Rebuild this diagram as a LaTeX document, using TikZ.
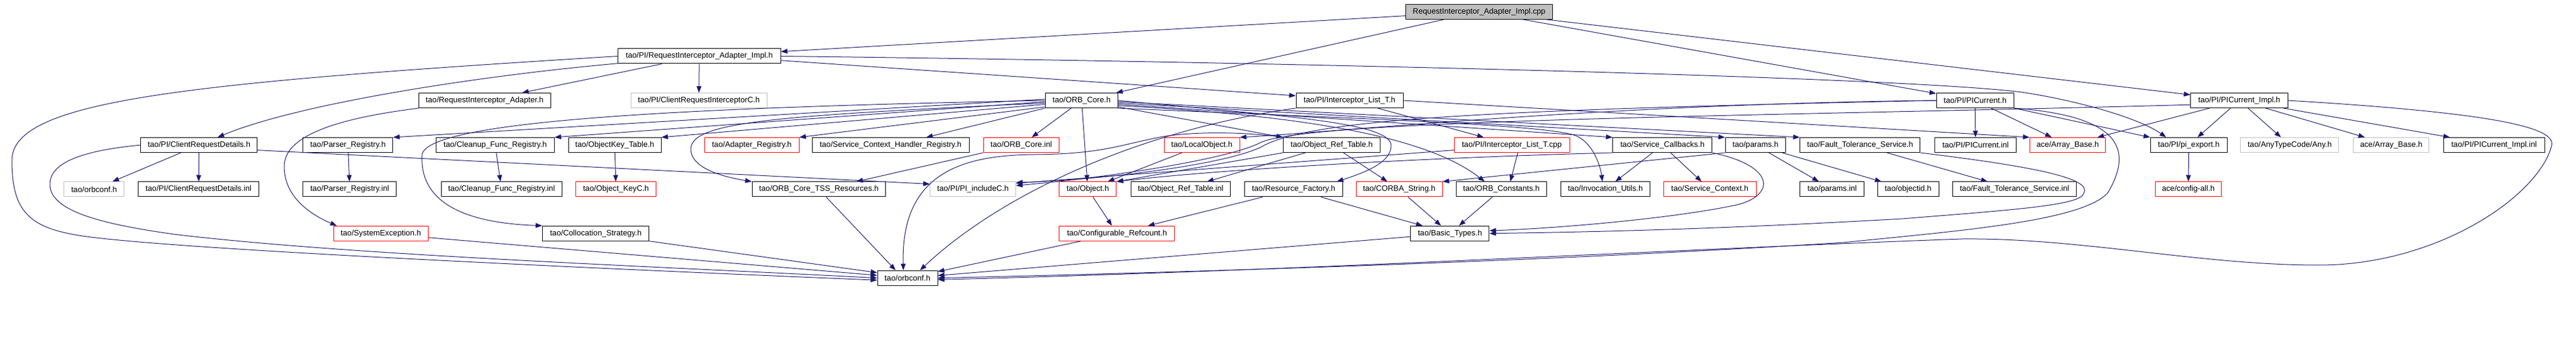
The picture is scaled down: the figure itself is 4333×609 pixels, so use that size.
\documentclass[tikz,border=0pt]{standalone}
\usepackage{fontspec}
\setmainfont{Liberation Sans}
\usetikzlibrary{arrows.meta}
\definecolor{depblue}{RGB}{25,25,112}
\definecolor{boxgray}{RGB}{191,191,191}

\begin{document}
\begin{tikzpicture}[x=1pt, y=-1pt,
    hdr/.style={draw=black, line width=1pt, fill=white, anchor=west, minimum height=25pt, inner sep=0pt, font=\fontsize{13.2}{15}\selectfont},
    hdrred/.style={hdr, draw=red},
    hdrgray/.style={hdr, draw=boxgray},
    hdrmain/.style={hdr, fill=boxgray},
    dep/.style={draw=depblue, line width=1pt, -{Triangle[length=11pt, width=8pt]}}]
    \useasboundingbox (0,0) rectangle (4333,609);

    \node[hdrmain, minimum width=247pt] (cpp) at (2364,19.6) {RequestInterceptor\_Adapter\_Impl.cpp};

    \node[hdr, minimum width=273.5pt] (raih) at (1039,94.5) {tao/PI/RequestInterceptor\_Adapter\_Impl.h};

    \node[hdr, minimum width=221.5pt] (ria) at (704,169) {tao/RequestInterceptor\_Adapter.h};
    \node[hdrgray, minimum width=229pt] (cric) at (1060.5,169) {tao/PI/ClientRequestInterceptorC.h};
    \node[hdr, minimum width=122.5pt] (orbcore) at (1757.6,169) {tao/ORB\_Core.h};
    \node[hdr, minimum width=180pt] (ilth) at (2179.5,169) {tao/PI/Interceptor\_List\_T.h};
    \node[hdr, minimum width=130.5pt] (pic) at (3256.5,169) {tao/PI/PICurrent.h};
    \node[hdr, minimum width=163.5pt] (picimpl) at (3684.3,169) {tao/PI/PICurrent\_Impl.h};

    \node[hdr, minimum width=196pt] (crd) at (236.4,244) {tao/PI/ClientRequestDetails.h};
    \node[hdr, minimum width=151pt] (parser) at (509.3,244) {tao/Parser\_Registry.h};
    \node[hdr, minimum width=198.7pt] (cleanup) at (733.1,244) {tao/Cleanup\_Func\_Registry.h};
    \node[hdr, minimum width=156pt] (okt) at (955.5,244) {tao/ObjectKey\_Table.h};
    \node[hdrred, minimum width=159pt] (adapter) at (1184.5,244) {tao/Adapter\_Registry.h};
    \node[hdr, minimum width=264pt] (schr) at (1365.5,244) {tao/Service\_Context\_Handler\_Registry.h};
    \node[hdrred, minimum width=127.6pt] (orbinl) at (1653.6,244) {tao/ORB\_Core.inl};
    \node[hdrred, minimum width=127pt] (localobj) at (1957.5,244) {tao/LocalObject.h};
    \node[hdr, minimum width=162.8pt] (ort) at (2158,244) {tao/Object\_Ref\_Table.h};
    \node[hdrred, minimum width=194pt] (iltcpp) at (2445.5,244) {tao/PI/Interceptor\_List\_T.cpp};
    \node[hdr, minimum width=166.8pt] (svccb) at (2712.4,244) {tao/Service\_Callbacks.h};
    \node[hdr, minimum width=101.8pt] (params) at (2901.5,244) {tao/params.h};
    \node[hdr, minimum width=202pt] (fts) at (3027.3,244) {tao/Fault\_Tolerance\_Service.h};
    \node[hdr, minimum width=137pt] (picinl) at (3254,244) {tao/PI/PICurrent.inl};
    \node[hdrred, minimum width=127.3pt] (arrbase) at (3413.8,244) {ace/Array\_Base.h};
    \node[hdr, minimum width=129pt] (piexport) at (3616.6,244) {tao/PI/pi\_export.h};
    \node[hdrgray, minimum width=165pt] (any) at (3768.4,244) {tao/AnyTypeCode/Any.h};
    \node[hdrgray, minimum width=127.4pt] (arrbasex) at (3958,244) {ace/Array\_Base.h};
    \node[hdr, minimum width=169.8pt] (picimplinl) at (4109.7,244) {tao/PI/PICurrent\_Impl.inl};

    \node[hdrgray, minimum width=101pt] (orbconfg) at (107.3,318.5) {tao/orbconf.h};
    \node[hdr, minimum width=202.7pt] (crdinl) at (232.2,318.5) {tao/PI/ClientRequestDetails.inl};
    \node[hdr, minimum width=157pt] (parserinl) at (509.3,318.5) {tao/Parser\_Registry.inl};
    \node[hdr, minimum width=203.4pt] (cleanupinl) at (741.5,318.5) {tao/Cleanup\_Func\_Registry.inl};
    \node[hdrred, minimum width=135.1pt] (okc) at (968.1,318.5) {tao/Object\_KeyC.h};
    \node[hdr, minimum width=224.8pt] (tss) at (1264.5,318.5) {tao/ORB\_Core\_TSS\_Resources.h};
    \node[hdrgray, minimum width=144pt] (piinc) at (1564,318.5) {tao/PI/PI\_includeC.h};
    \node[hdrred, minimum width=95.8pt] (object) at (1781.4,318.5) {tao/Object.h};
    \node[hdr, minimum width=167.8pt] (ortinl) at (1901.5,318.5) {tao/Object\_Ref\_Table.inl};
    \node[hdr, minimum width=164.4pt] (resfac) at (2093.2,318.5) {tao/Resource\_Factory.h};
    \node[hdrred, minimum width=145pt] (corbastr) at (2280.5,318.5) {tao/CORBA\_String.h};
    \node[hdr, minimum width=152.8pt] (orbconst) at (2448.5,318.5) {tao/ORB\_Constants.h};
    \node[hdr, minimum width=150.7pt] (invutil) at (2624.5,318.5) {tao/Invocation\_Utils.h};
    \node[hdrred, minimum width=156pt] (svcctx) at (2797.5,318.5) {tao/Service\_Context.h};
    \node[hdr, minimum width=108pt] (paramsinl) at (3027.4,318.5) {tao/params.inl};
    \node[hdr, minimum width=103pt] (objectid) at (3157.5,318.5) {tao/objectid.h};
    \node[hdr, minimum width=208.7pt] (ftsinl) at (3283.7,318.5) {tao/Fault\_Tolerance\_Service.inl};
    \node[hdrred, minimum width=111.7pt] (configall) at (3624.5,318.5) {ace/config-all.h};

    \node[hdrred, minimum width=159.3pt] (sysexc) at (560.5,392.7) {tao/SystemException.h};
    \node[hdr, minimum width=179.4pt] (colloc) at (912,392.7) {tao/Collocation\_Strategy.h};
    \node[hdrred, minimum width=194pt] (cfgref) at (1781.4,392.7) {tao/Configurable\_Refcount.h};
    \node[hdr, minimum width=132pt] (basic) at (2372.4,392.7) {tao/Basic\_Types.h};

    \node[hdr, minimum width=101pt] (orbconf) at (1475.5,467.7) {tao/orbconf.h};

    % from the .cpp
    \draw[dep] (cpp) -- (raih);
    \draw[dep] (cpp) -- (orbcore);
    \draw[dep] (cpp) -- (pic);
    \draw[dep] (cpp) -- (picimpl);

    \draw[dep] (raih) -- (cric);
    \draw[dep] (raih) -- (ria);
    \draw[dep] (raih) .. controls (800,128) and (500,175) .. (crd);
    \draw[dep] (raih.west) .. controls (300,140) and (20,170) .. (20,270) .. controls (20,370) and (60,390) .. (180,402) .. controls (400,425) and (1100,456) .. (orbconf.184);
    \draw[dep] (raih.-3) -- (ilth.175);
    \draw[dep] (raih.east) .. controls (2200,105) and (3200,130) .. (3400,155) .. controls (3500,170) and (3600,200) .. ([xshift=-38pt]piexport.north);

    \draw[dep] (crd) -- (orbconfg);
    \draw[dep] (crd) -- (crdinl);
    \draw[dep] (crd.-5) -- (piinc.173);
    \draw[dep] (crd.west) .. controls (120,255) and (84,280) .. (84,310) .. controls (84,350) and (150,375) .. (300,395) .. controls (600,430) and (1100,448) .. (orbconf.180);

    \draw[dep] (ria.south west) .. controls (560,200) and (478,230) .. (478,280) .. controls (478,330) and (520,360) .. ([xshift=6pt]sysexc.north west);
    \draw[dep] (parser) -- (parserinl);
    \draw[dep] (cleanup) -- (cleanupinl);
    \draw[dep] (okt) -- (okc);
    \draw[dep] (sysexc.-5) -- (orbconf.175);
    \draw[dep] (colloc.south east) -- (orbconf.170);

    % ORB_Core.h
    \draw[dep] (orbcore.178) -- (parser.north east);
    \draw[dep] (orbcore.182) -- (cleanup.north east);
    \draw[dep] (orbcore.186) -- (okt.north east);
    \draw[dep] (orbcore.190) -- (adapter.north east);
    \draw[dep] (orbcore.south west) -- ([xshift=60pt]schr.north);
    \draw[dep] (orbcore) -- (orbinl);
    \draw[dep] (orbcore) -- (object);
    \draw[dep] (orbcore.184) .. controls (1300,195) and (1160,205) .. (1162,252) .. controls (1164,285) and (1220,298) .. (tss.north west);
    \draw[dep] (orbcore.180) .. controls (1200,180) and (720,200) .. (710,260) .. controls (705,340) and (780,375) .. (colloc.north west);
    \draw[dep] (orbcore.-10) -- (ort.north west);
    \draw[dep] (orbcore.east) .. controls (2150,195) and (2340,205) .. (2340,245) .. controls (2340,275) and (2290,292) .. ([xshift=-10pt]resfac.north east);
    \draw[dep] (orbcore.-8) .. controls (2200,195) and (2400,230) .. ([xshift=-28pt]orbconst.north);
    \draw[dep] (orbcore.-12) .. controls (2300,200) and (2600,210) .. (2650,228) .. controls (2680,240) and (2692,280) .. ([xshift=-5pt]invutil.north);
    \draw[dep] (orbcore.-6) -- (svccb.north west);
    \draw[dep] (orbcore.-4) -- (params.north west);
    \draw[dep] (orbcore.-2) -- (fts.north west);

    \draw[dep] (orbinl.south west) -- ([xshift=63pt]tss.north);
    \draw[dep] (tss) -- ([xshift=-20pt]orbconf.north);
    \draw[dep] (localobj) -- (object);
    \draw[dep] (object) -- (cfgref);
    \draw[dep] (cfgref) -- (orbconf);

    \draw[dep] (ilth) -- (iltcpp);
    \draw[dep] (ilth.east) -- (arrbase.north west);
    \draw[dep] (ilth.south west) .. controls (1910,220) and (1680,330) .. ([xshift=21pt]orbconf.north);

    \draw[dep] (ort) -- (ortinl);
    \draw[dep] (ort) -- (corbastr);
    \draw[dep] (ort.south west) -- (object.north east);
    \draw[dep] (ort.north west) .. controls (2100,222) and (2000,220) .. (1945,232) .. controls (1880,245) and (1850,259) .. (1740,260) .. controls (1620,261) and (1515,290) .. ([xshift=-7pt]orbconf.north);

    \draw[dep] (resfac) -- (basic);
    \draw[dep] (resfac) -- (cfgref);
    \draw[dep] (corbastr) -- (basic);
    \draw[dep] (orbconst) -- (basic);
    \draw[dep] (basic) -- (orbconf);

    \draw[dep] ([xshift=10pt]iltcpp.south) -- ([xshift=15pt]orbconst.north);
    \draw[dep] (iltcpp.-175) -- (piinc.8);

    \draw[dep] (svccb) -- (invutil);
    \draw[dep] (svccb) -- (svcctx);
    \draw[dep] (svccb.south west) .. controls (2400,265) and (2050,285) .. (object.15);
    \draw[dep] (svccb.south east) .. controls (2990,280) and (2985,330) .. (2920,345) .. controls (2800,370) and (2600,385) .. (basic.4);

    \draw[dep] (params) -- (paramsinl);
    \draw[dep] (params) -- (objectid);
    \draw[dep] (params.south west) -- (corbastr.north east);

    \draw[dep] (fts) -- (ftsinl);
    \draw[dep] (fts.south east) .. controls (3420,280) and (3520,300) .. (3505,325) .. controls (3500,345) and (3400,352) .. (3200,368) .. controls (2900,385) and (2700,390) .. (basic.east);

    % PICurrent
    \draw[dep] (pic) -- (picinl);
    \draw[dep] (pic) -- (arrbase);
    \draw[dep] (pic.south east) -- (piexport.north west);
    \draw[dep] (pic.west) .. controls (2700,175) and (2250,222) .. (localobj.north east);
    \draw[dep] (pic.west) .. controls (2500,185) and (2200,200) .. (2120,248) .. controls (2055,278) and (1850,303) .. (piinc.9);
    \draw[dep] (pic.south east) .. controls (3565,195) and (3590,250) .. (3545,325) .. controls (3500,372) and (3300,388) .. (3100,408) .. controls (2600,440) and (2000,458) .. (orbconf.east);

    \draw[dep] (picimpl) -- (arrbase);
    \draw[dep] (picimpl) -- (piexport);
    \draw[dep] (picimpl) -- (any);
    \draw[dep] (picimpl) -- (arrbasex);
    \draw[dep] (picimpl) -- (picimplinl);
    \draw[dep] (picimpl.-175) .. controls (3000,195) and (2200,200) .. (2120,240) .. controls (2060,270) and (1850,300) .. (piinc.5);
    \draw[dep] (picimpl.east) .. controls (4200,190) and (4300,215) .. (4292,245) .. controls (4270,330) and (4100,446) .. (3900,446) .. controls (3700,446) and (3500,400) .. (3300,402) .. controls (2800,420) and (2200,455) .. (orbconf.-3);

    \draw[dep] (piexport) -- (configall);
\end{tikzpicture}
\end{document}
